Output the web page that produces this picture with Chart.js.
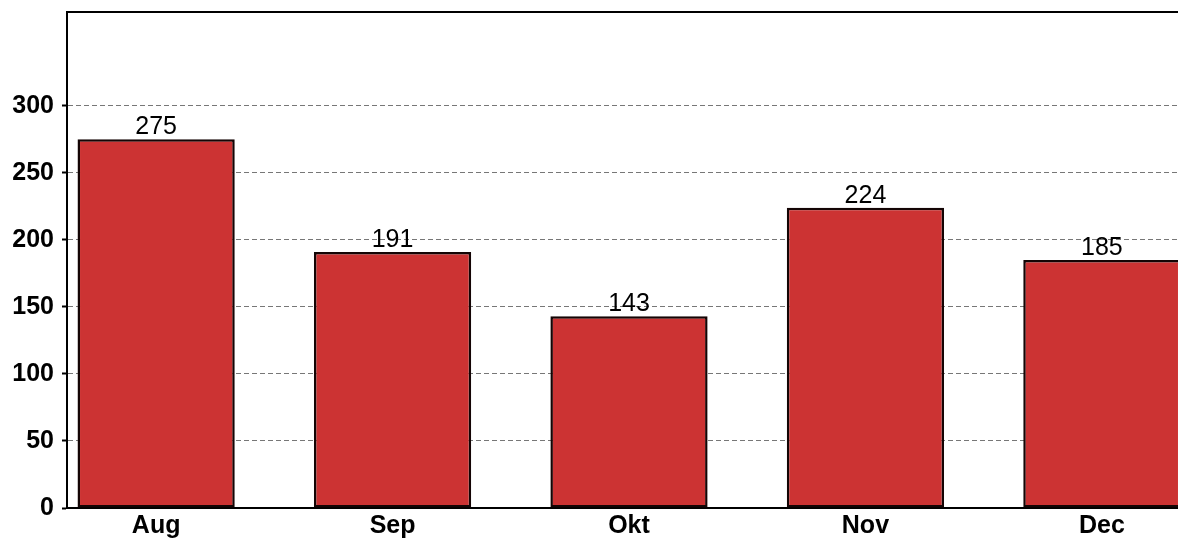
<!DOCTYPE html>
<html>
<head>
<meta charset="utf-8">
<script src="https://cdn.jsdelivr.net/npm/chart.js@4"></script>
<style>
  html, body { margin: 0; padding: 0; background: #fff; }
  #wrap { width: 1178px; height: 539px; }
</style>
</head>
<body>
<div id="wrap"><canvas id="chart" width="1178" height="539"></canvas></div>
<script>
// --- Data ---
const months = ['Aug', 'Sep', 'Okt', 'Nov', 'Dec'];
const counts = [275, 191, 143, 224, 185];
const yTicks = [0, 50, 100, 150, 200, 250, 300];

const FONT = '"Liberation Sans", Arial, sans-serif';

// value labels above bars + top frame line
const extras = {
  id: 'extras',
  afterDatasetsDraw(chart) {
    const ctx = chart.ctx;
    const meta = chart.getDatasetMeta(0);
    ctx.save();
    ctx.fillStyle = '#000';
    ctx.font = '25px ' + FONT;
    ctx.textAlign = 'center';
    ctx.textBaseline = 'alphabetic';
    meta.data.forEach((bar, i) => {
      ctx.fillText(String(counts[i]), bar.x, bar.y - 5);
    });
    const a = chart.chartArea;
    ctx.strokeStyle = '#000';
    ctx.lineWidth = 2;
    ctx.beginPath();
    ctx.moveTo(a.left, a.top);
    ctx.lineTo(a.right, a.top);
    ctx.stroke();
    ctx.restore();
  }
};

new Chart(document.getElementById('chart'), {
  type: 'bar',
  data: {
    datasets: [{
      data: counts.map((v, i) => ({ x: i, y: v })),
      backgroundColor: '#cc3333',
      borderColor: '#140505',
      borderWidth: 2.5,
      borderSkipped: false,
      categoryPercentage: 1,
      barPercentage: 0.665,
    }]
  },
  options: {
    animation: false,
    responsive: false,
    layout: { padding: { top: 12, right: 0, bottom: 0, left: 0 } },
    plugins: { legend: { display: false }, tooltip: { enabled: false } },
    scales: {
      x: {
        type: 'linear',
        offset: false,
        min: -0.377,
        max: 4.322,
        grid: { display: false, drawTicks: false, offset: false },
        border: { display: true, color: '#000', width: 2 },
        afterBuildTicks: (s) => { s.ticks = months.map((_, i) => ({ value: i })); },
        afterFit: (s) => { s.height = 31; s.paddingLeft = 0; s.paddingRight = 0; },
        ticks: {
          autoSkip: false,
          maxRotation: 0,
          padding: 3,
          color: '#000',
          font: { family: FONT, size: 25, weight: 'bold' },
          callback: (v) => months[v] ?? '',
        }
      },
      y: {
        min: 0,
        max: 370,
        grid: {
          color: '#777777',
          lineWidth: 1,
          tickLength: 5,
          tickColor: '#000',
          tickWidth: 2,
          tickBorderDash: [],
        },
        border: { display: true, color: '#000', width: 2, dash: [5, 3] },
        afterBuildTicks: (s) => { s.ticks = yTicks.map(v => ({ value: v })); },
        afterFit: (s) => { s.width = 67; s.paddingTop = 0; s.paddingBottom = 0; },
        ticks: {
          padding: 8,
          color: '#000',
          font: { family: FONT, size: 25, weight: 'bold' },
        }
      }
    }
  },
  plugins: [extras]
});
</script>
</body>
</html>
